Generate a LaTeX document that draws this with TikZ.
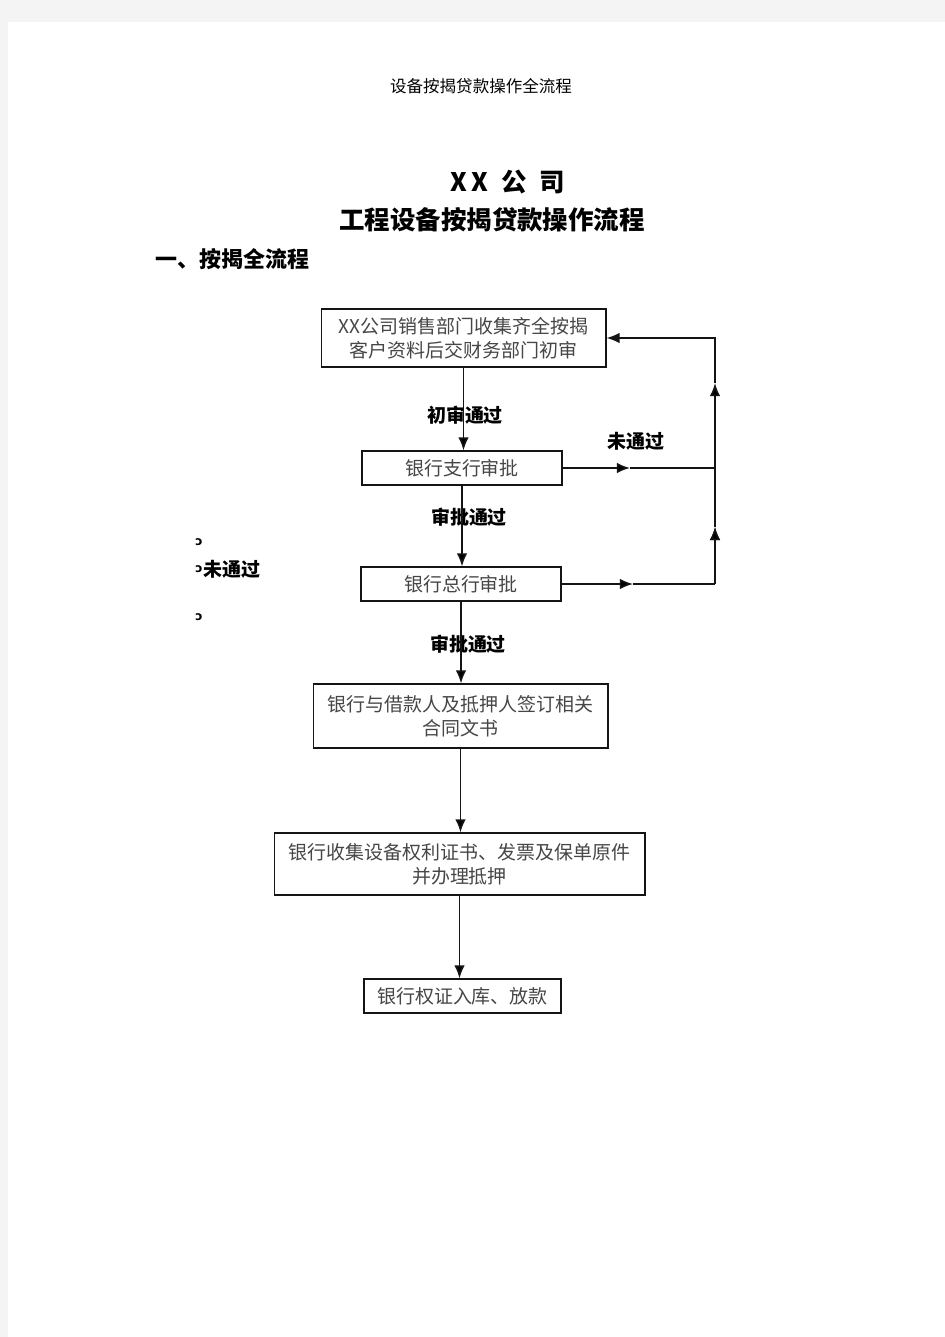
\documentclass[tikz,border=0pt]{standalone}
\usepackage{fontspec}
\setmainfont{Noto Sans CJK SC}
\newfontfamily\marksfont{DejaVu Sans}
\usepackage{tikz}
\usetikzlibrary{arrows.meta,positioning}
\definecolor{page_gray}{RGB}{244,244,244}
\definecolor{box_text}{RGB}{70,70,70}
\definecolor{line_dark}{RGB}{20,20,20}

\begin{document}
\begin{tikzpicture}[x=0.02cm,y=-0.02cm,>={Latex[length=7.5pt,width=6pt]},line width=0.9pt]
    \tikzstyle{box}=[draw=line_dark,line width=0.6pt,rectangle,inner sep=0pt,align=center,
                     text=box_text,font=\fontsize{10.8}{13.6}\selectfont]
    \tikzstyle{lbl}=[inner sep=0pt,text=black,font=\fontsize{10.8}{13}\selectfont\bfseries]
    \tikzstyle{flow}=[->,draw=line_dark]
    \tikzstyle{pmark}=[inner sep=0pt,font=\marksfont\bfseries\fontsize{7}{7}\selectfont]

    % page
    \fill[page_gray] (0,0) rectangle (945,1337);
    \fill[white] (8,22) rectangle (945,1337);
    \useasboundingbox (0,0) rectangle (945,1337);

    % headings
    \node[font=\fontsize{9.4}{11}\selectfont]           (hdr)   at (481,86)  {设备按揭贷款操作全流程};
    \node[font=\fontsize{14.5}{16}\selectfont\bfseries] (co)    at (508,182) {X\,X\enspace 公\enspace 司};
    \node[font=\fontsize{14.5}{16}\selectfont\bfseries] (title) at (492,220) {工程设备按揭贷款操作流程};
    \node[font=\fontsize{12.5}{14}\selectfont\bfseries,anchor=west] (sec) at (149,259) {一、按揭全流程};

    % steps
    \node[box,minimum width=5.70cm,minimum height=1.16cm] (sales)   at (463.5,338) {XX公司销售部门收集齐全按揭\\客户资料后交财务部门初审};
    \node[box,minimum width=4.00cm,minimum height=0.68cm] (branch)  at (462,468)   {银行支行审批};
    \node[box,minimum width=4.00cm,minimum height=0.68cm] (head)    at (461,584)   {银行总行审批};
    \node[box,minimum width=5.90cm,minimum height=1.28cm] (sign)    at (460.5,716) {银行与借款人及抵押人签订相关\\合同文书};
    \node[box,minimum width=7.42cm,minimum height=1.24cm] (collect) at (459.5,864) {银行收集设备权利证书、发票及保单原件\\并办理抵押};
    \node[box,minimum width=3.94cm,minimum height=0.68cm] (loan)    at (462.5,996) {银行权证入库、放款};

    % labels
    \node[lbl] (pass1) at (465,415) {初审通过};
    \node[lbl] (fail1) at (636,441) {未通过};
    \node[lbl] (pass2) at (469,517) {审批通过};
    \node[lbl] (pass3) at (468,644) {审批通过};
    \node[lbl,anchor=west] (fail2) at (203,569) {未通过};
    \node[pmark] (pm1) at (199,542) {ɔ};
    \node[pmark] (pm2) at (199,569) {ɔ};
    \node[pmark] (pm3) at (199,617) {ɔ};

    % return line
    \coordinate (m2) at (630,468);
    \coordinate (m3) at (633,584);
    \coordinate (r1) at (715,338);
    \coordinate (r2) at (715,468);
    \coordinate (r3) at (715,584);
    \coordinate (u1) at (715,383);
    \coordinate (u2) at (715,527);

    \path[flow]
     (sales.south)   edge (sales.south |- branch.north)
     (branch.south)  edge (branch.south |- head.north)
     (head.south)    edge (head.south |- sign.north)
     (sign.south)    edge (sign.south |- collect.north)
     (collect.south) edge (collect.south |- loan.north)
     (branch.east)   edge (m2)
     (head.east)     edge (m3)
     (r3)            edge (u2)
     (u2)            edge (u1);
    \draw[line_dark] (m2) -- (r2);
    \draw[line_dark] (m3) -- (r3);
    \draw[flow] (u1) -- (r1) -- (sales.east);
\end{tikzpicture}
\end{document}
